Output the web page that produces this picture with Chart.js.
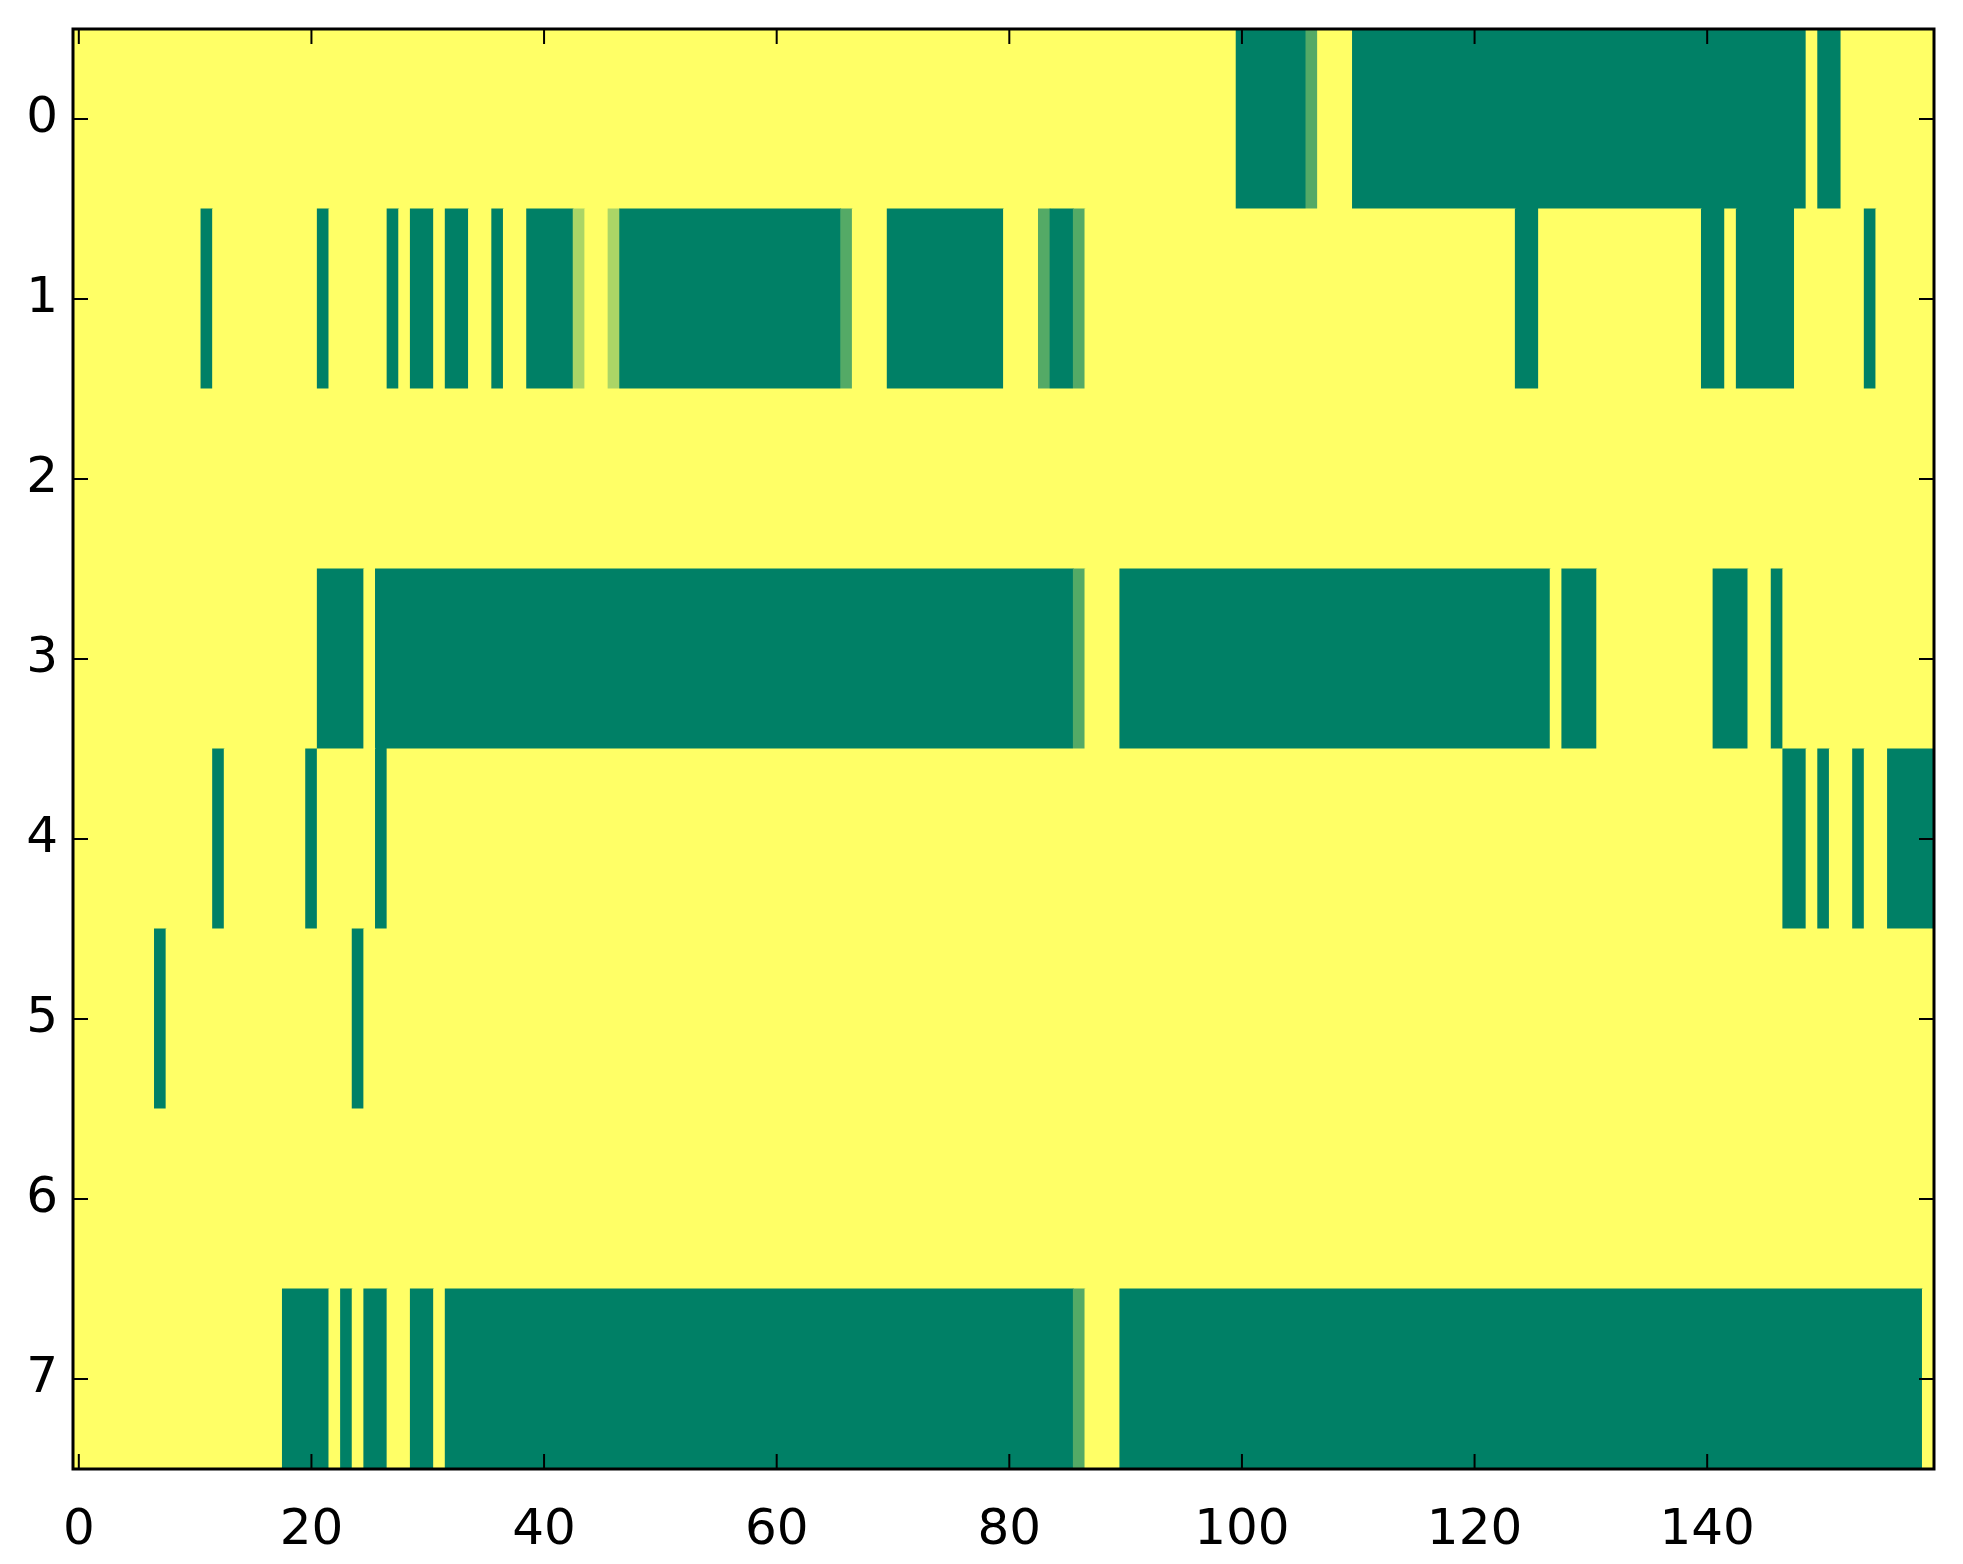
<!DOCTYPE html>
<html>
<head>
<meta charset="utf-8">
<script src="https://cdn.jsdelivr.net/npm/chart.js@4.4.1/dist/chart.umd.min.js"></script>
<style>
html,body{margin:0;padding:0;background:#ffffff;}
canvas{display:block;}
</style>
</head>
<body>
<canvas id="c" width="1963" height="1564"></canvas>
<script>
// Row labels (y axis) and x tick values
const rowLabels = ['0','1','2','3','4','5','6','7'];
const xTickValues = [0,20,40,60,80,100,120,140];

// Cell values per row, columns 0..159 (0 = dark green, 1 = yellow, 1/3 and 2/3 = intermediate)
const row0 = [
  1,1,1,1,1,1,1,1,1,1, 1,1,1,1,1,1,1,1,1,1,
  1,1,1,1,1,1,1,1,1,1, 1,1,1,1,1,1,1,1,1,1,
  1,1,1,1,1,1,1,1,1,1, 1,1,1,1,1,1,1,1,1,1,
  1,1,1,1,1,1,1,1,1,1, 1,1,1,1,1,1,1,1,1,1,
  1,1,1,1,1,1,1,1,1,1, 1,1,1,1,1,1,1,1,1,1,
  0,0,0,0,0,0,0.33,1,1,1, 0,0,0,0,0,0,0,0,0,0,
  0,0,0,0,0,0,0,0,0,0, 0,0,0,0,0,0,0,0,0,0,
  0,0,0,0,0,0,0,0,0,1, 0,0,1,1,1,1,1,1,1,1
];
const row1 = [
  1,1,1,1,1,1,1,1,1,1, 1,0,1,1,1,1,1,1,1,1,
  1,0,1,1,1,1,1,0,1,0, 0,1,0,0,1,1,0,1,1,0,
  0,0,0,0.67,1,1,0.67,0,0,0, 0,0,0,0,0,0,0,0,0,0,
  0,0,0,0,0,0,0.33,1,1,1, 0,0,0,0,0,0,0,0,0,0,
  1,1,1,0.33,0,0,0.33,1,1,1, 1,1,1,1,1,1,1,1,1,1,
  1,1,1,1,1,1,1,1,1,1, 1,1,1,1,1,1,1,1,1,1,
  1,1,1,1,0,0,1,1,1,1, 1,1,1,1,1,1,1,1,1,1,
  0,0,1,0,0,0,0,0,1,1, 1,1,1,1,0,1,1,1,1,1
];
const row2 = [
  1,1,1,1,1,1,1,1,1,1, 1,1,1,1,1,1,1,1,1,1,
  1,1,1,1,1,1,1,1,1,1, 1,1,1,1,1,1,1,1,1,1,
  1,1,1,1,1,1,1,1,1,1, 1,1,1,1,1,1,1,1,1,1,
  1,1,1,1,1,1,1,1,1,1, 1,1,1,1,1,1,1,1,1,1,
  1,1,1,1,1,1,1,1,1,1, 1,1,1,1,1,1,1,1,1,1,
  1,1,1,1,1,1,1,1,1,1, 1,1,1,1,1,1,1,1,1,1,
  1,1,1,1,1,1,1,1,1,1, 1,1,1,1,1,1,1,1,1,1,
  1,1,1,1,1,1,1,1,1,1, 1,1,1,1,1,1,1,1,1,1
];
const row3 = [
  1,1,1,1,1,1,1,1,1,1, 1,1,1,1,1,1,1,1,1,1,
  1,0,0,0,0,1,0,0,0,0, 0,0,0,0,0,0,0,0,0,0,
  0,0,0,0,0,0,0,0,0,0, 0,0,0,0,0,0,0,0,0,0,
  0,0,0,0,0,0,0,0,0,0, 0,0,0,0,0,0,0,0,0,0,
  0,0,0,0,0,0,0.33,1,1,1, 0,0,0,0,0,0,0,0,0,0,
  0,0,0,0,0,0,0,0,0,0, 0,0,0,0,0,0,0,0,0,0,
  0,0,0,0,0,0,0,1,0,0, 0,1,1,1,1,1,1,1,1,1,
  1,0,0,0,1,1,0,1,1,1, 1,1,1,1,1,1,1,1,1,1
];
const row4 = [
  1,1,1,1,1,1,1,1,1,1, 1,1,0,1,1,1,1,1,1,1,
  0,1,1,1,1,1,0,1,1,1, 1,1,1,1,1,1,1,1,1,1,
  1,1,1,1,1,1,1,1,1,1, 1,1,1,1,1,1,1,1,1,1,
  1,1,1,1,1,1,1,1,1,1, 1,1,1,1,1,1,1,1,1,1,
  1,1,1,1,1,1,1,1,1,1, 1,1,1,1,1,1,1,1,1,1,
  1,1,1,1,1,1,1,1,1,1, 1,1,1,1,1,1,1,1,1,1,
  1,1,1,1,1,1,1,1,1,1, 1,1,1,1,1,1,1,1,1,1,
  1,1,1,1,1,1,1,0,0,1, 0,1,1,0,1,1,0,0,0,0
];
const row5 = [
  1,1,1,1,1,1,1,0,1,1, 1,1,1,1,1,1,1,1,1,1,
  1,1,1,1,0,1,1,1,1,1, 1,1,1,1,1,1,1,1,1,1,
  1,1,1,1,1,1,1,1,1,1, 1,1,1,1,1,1,1,1,1,1,
  1,1,1,1,1,1,1,1,1,1, 1,1,1,1,1,1,1,1,1,1,
  1,1,1,1,1,1,1,1,1,1, 1,1,1,1,1,1,1,1,1,1,
  1,1,1,1,1,1,1,1,1,1, 1,1,1,1,1,1,1,1,1,1,
  1,1,1,1,1,1,1,1,1,1, 1,1,1,1,1,1,1,1,1,1,
  1,1,1,1,1,1,1,1,1,1, 1,1,1,1,1,1,1,1,1,1
];
const row6 = [
  1,1,1,1,1,1,1,1,1,1, 1,1,1,1,1,1,1,1,1,1,
  1,1,1,1,1,1,1,1,1,1, 1,1,1,1,1,1,1,1,1,1,
  1,1,1,1,1,1,1,1,1,1, 1,1,1,1,1,1,1,1,1,1,
  1,1,1,1,1,1,1,1,1,1, 1,1,1,1,1,1,1,1,1,1,
  1,1,1,1,1,1,1,1,1,1, 1,1,1,1,1,1,1,1,1,1,
  1,1,1,1,1,1,1,1,1,1, 1,1,1,1,1,1,1,1,1,1,
  1,1,1,1,1,1,1,1,1,1, 1,1,1,1,1,1,1,1,1,1,
  1,1,1,1,1,1,1,1,1,1, 1,1,1,1,1,1,1,1,1,1
];
const row7 = [
  1,1,1,1,1,1,1,1,1,1, 1,1,1,1,1,1,1,1,0,0,
  0,0,1,0,1,0,0,1,1,0, 0,1,0,0,0,0,0,0,0,0,
  0,0,0,0,0,0,0,0,0,0, 0,0,0,0,0,0,0,0,0,0,
  0,0,0,0,0,0,0,0,0,0, 0,0,0,0,0,0,0,0,0,0,
  0,0,0,0,0,0,0.33,1,1,1, 0,0,0,0,0,0,0,0,0,0,
  0,0,0,0,0,0,0,0,0,0, 0,0,0,0,0,0,0,0,0,0,
  0,0,0,0,0,0,0,0,0,0, 0,0,0,0,0,0,0,0,0,0,
  0,0,0,0,0,0,0,0,0,0, 0,0,0,0,0,0,0,0,0,1
];
const rows = [row0,row1,row2,row3,row4,row5,row6,row7];

// matplotlib "summer" colormap
function summer(v){
  return 'rgb(' + Math.round(255*v) + ',' + Math.round(255*(0.5+v/2)) + ',102)';
}

// Build floating bars from runs of equal values in each row
const cells = [];
const cellColors = [];
rows.forEach(function(vals, r){
  let start = 0;
  for (let c = 1; c <= vals.length; c++) {
    if (c === vals.length || vals[c] !== vals[start]) {
      cells.push({x: [start - 0.5, c - 0.5], y: rowLabels[r]});
      cellColors.push(summer(vals[start]));
      start = c;
    }
  }
});

const FONT = {family: "'DejaVu Sans', sans-serif", size: 50};

const framePlugin = {
  id: 'frame',
  afterDraw(chart){
    const ctx = chart.ctx, a = chart.chartArea, xs = chart.scales.x, ys = chart.scales.y;
    ctx.save();
    ctx.strokeStyle = '#000';
    ctx.lineWidth = 2;
    ctx.beginPath();
    xTickValues.forEach(function(v){
      const px = xs.getPixelForValue(v);
      ctx.moveTo(px, a.bottom); ctx.lineTo(px, a.bottom - 15);
      ctx.moveTo(px, a.top); ctx.lineTo(px, a.top + 15);
    });
    rowLabels.forEach(function(l, i){
      const py = ys.getPixelForValue(i);
      ctx.moveTo(a.left, py); ctx.lineTo(a.left + 15, py);
      ctx.moveTo(a.right, py); ctx.lineTo(a.right - 15, py);
    });
    ctx.stroke();
    ctx.lineWidth = 3;
    ctx.strokeRect(a.left, a.top, a.right - a.left, a.bottom - a.top);
    ctx.restore();
  }
};

new Chart(document.getElementById('c').getContext('2d'), {
  type: 'bar',
  data: {
    labels: rowLabels,
    datasets: [{
      data: cells,
      backgroundColor: cellColors,
      borderWidth: 0,
      borderSkipped: false,
      barPercentage: 1,
      categoryPercentage: 1,
      inflateAmount: 0.4
    }]
  },
  options: {
    indexAxis: 'y',
    responsive: false,
    animation: false,
    devicePixelRatio: 1,
    layout: {padding: {left: 0, top: 29, right: 29, bottom: 0}},
    plugins: {legend: {display: false}, tooltip: {enabled: false}},
    scales: {
      x: {
        type: 'linear',
        min: -0.5,
        max: 159.5,
        grid: {display: false, drawTicks: false},
        border: {display: false},
        afterBuildTicks: function(s){ s.ticks = xTickValues.map(function(v){ return {value: v}; }); },
        afterFit: function(s){ s.height = 95; s.paddingLeft = 0; s.paddingRight = 0; },
        ticks: {font: FONT, color: '#000', padding: 32, maxRotation: 0, autoSkip: false}
      },
      y: {
        type: 'category',
        offset: true,
        grid: {display: false, drawTicks: false},
        border: {display: false},
        afterFit: function(s){ s.width = 73; s.paddingTop = 0; s.paddingBottom = 0; },
        ticks: {font: FONT, color: '#000', padding: 15}
      }
    }
  },
  plugins: [framePlugin]
});
</script>
</body>
</html>
